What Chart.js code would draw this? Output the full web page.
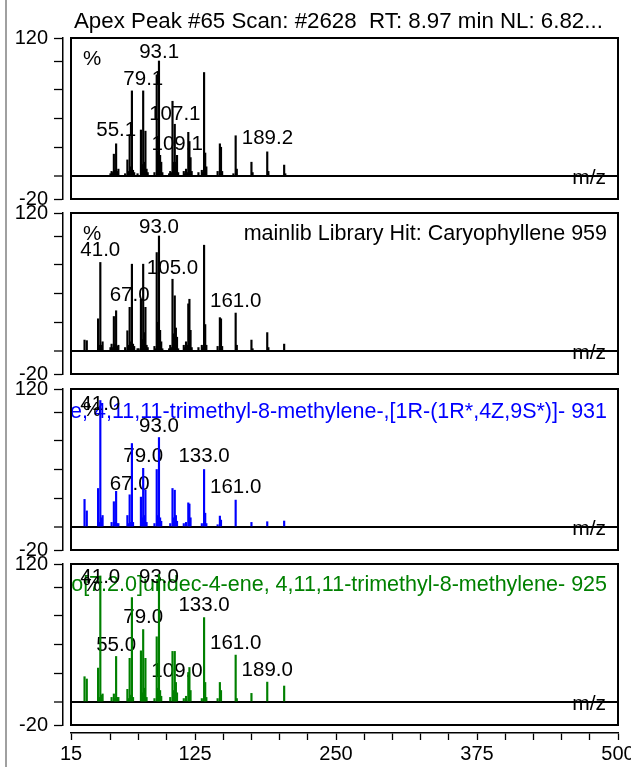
<!DOCTYPE html>
<html>
<head>
<meta charset="utf-8">
<script src="https://cdn.jsdelivr.net/npm/chart.js@4.4.1/dist/chart.umd.min.js"></script>
<style>
html,body{margin:0;padding:0;background:#fff;overflow:hidden;width:631px;height:767px;}
.wrap{position:relative;width:631px;height:767px;overflow:hidden;background:#fff;}
canvas.panel{position:absolute;left:0;top:0;}
.edge{position:absolute;left:5px;top:0;width:2px;height:767px;background:#a0a0a0;}
</style>
</head>
<body>
<div class="wrap">
<div class="edge"></div>
<canvas id="c0" class="panel" width="660" height="767"></canvas>
<canvas id="c1" class="panel" width="660" height="767"></canvas>
<canvas id="c2" class="panel" width="660" height="767"></canvas>
<canvas id="c3" class="panel" width="660" height="767"></canvas>
</div>
<script>
// ---------------- DATA ----------------
const titleText = "Apex Peak #65 Scan: #2628  RT: 8.97 min NL: 6.82...";
const hitNames = [
  "",
  "mainlib Library Hit: Caryophyllene 959",
  "Bicyclo[7.2.0]undec-4-ene, 4,11,11-trimethyl-8-methylene-,[1R-(1R*,4Z,9S*)]- 931",
  "Bicyclo[7.2.0]undec-4-ene, 4,11,11-trimethyl-8-methylene- 925"
];

// Panel 1: measured spectrum (m/z, relative intensity)
const p1Mz = [50,51,52,53,54,55,56,57, 63,65,66,67,68,69,70,71, 74,77,78,79,80,81,82,83, 89,91,92,93,94,95,96, 102,103,104,105,106,107,108,109,110, 115,116,117,118,119,120,121,122, 128,131,132,133,134,135, 145,147,148,149, 159,161,162, 175,176, 189,190, 204,205];
const p1I  = [2,4,3,19,5,28,4,6, 2,14,4,36,8,74,5,3, 2,40,10,74,12,39,6,3, 3,88,22,100,18,12,3, 2,4,3,65,12,45,12,18,3, 4,2,6,3,38,30,16,4, 3,5,3,90,20,8, 4,28,25,4, 2,35,6, 12,3, 21,4, 9.5,2];

// Panel 2: mainlib Caryophyllene
const p2Mz = [27,29,39,40,41,42,43, 50,51,52,53,54,55,56,57, 63,65,66,67,68,69,70,71, 74,75,77,78,79,80,81,82,83, 89,90,91,92,93,94,95,96, 102,103,104,105,106,107,108,109,110, 115,116,117,118,119,120,121,122, 128,131,132,133,134,135, 145,147,148,149, 161,162, 175,176, 189,190, 204];
const p2I  = [9.5,9,28,5,77,5,8, 3,6,3,30,6,35,4,5, 3,17.6,5,38,8,75.5,6,4, 2,2,45,10,75.5,16,38,5,3, 4,2,85.6,25,100,18,8,2, 2,5,3,62.4,15,48,20,12,2, 5,3,8,5,41,45,18,3, 3,5,3,92,23,5, 4,29,28,4, 33,5, 9.5,2, 16,3, 6];

// Panel 3: library hit 931 (blue)
const p3Mz = [27,29,39,40,41,42,43, 51,53,54,55,56,57, 65,66,67,68,69,70, 77,78,79,80,81,82, 89,91,92,93,94,95, 103,105,106,107,108,109, 115,117,119,120,121, 131,133,134,135, 145,147,148, 161, 175, 189, 204];
const p3I  = [24,14,33.5,4,110,8,10, 4,22,4,31,3,3, 10,3,28,4,72.6,4, 26,8,51,10,32,4, 3,50,10,77.8,8,5, 3,33.5,8,32,10,5, 3,4,21,20,8, 3,50,12,3, 2,9.5,6, 23.4, 4, 4.6, 5.2];

// Panel 4: library hit 925 (green)
const p4Mz = [27,29,39,40,41,42,43, 51,53,54,55,56,57, 65,66,67,68,69,70, 77,78,79,80,81,82, 89,91,92,93,94,95, 103,105,106,107,108,109, 115,117,119,120,121, 131,133,134,135, 145,147,148, 161,162, 175, 189, 204];
const p4I  = [22,20,29.5,4,109.6,6,7, 4,7,3,39.6,4,4, 11,3,38,6,90.8,4, 44.5,8,63,12,38,4, 3,56.7,12,111,10,5, 4,44,10,44,17,8, 3,5,25.7,30,10, 3,73.4,17,4, 3,17,10, 40.8,3, 7.5, 17.3, 13.9];

// Peak annotations: text, m/z, and the intensity level the label sits on
const p1LabText = ["55.1","79.1","93.1","107.1","109.1","189.2"];
const p1LabMz   = [55.1,79.1,93.1,107.1,109.1,189.2];
const p1LabAt   = [34.7,79.5,103,49,23,27.5];
const p2LabText = ["41.0","67.0","93.0","105.0","161.0"];
const p2LabMz   = [41,67,93,105,161];
const p2LabAt   = [82.6,43.6,103,66.8,38];
const p3LabText = ["41.0","67.0","79.0","93.0","133.0","161.0"];
const p3LabMz   = [41,67,79,93,133,161];
const p3LabAt   = [101.5,32,56.6,82.6,56.6,29.2];
const p4LabText = ["41.0","55.0","79.0","93.0","109.0","133.0","161.0","189.0"];
const p4LabMz   = [41,55,79,93,109,133,161,189];
const p4LabAt   = [103.8,44.5,69,103.8,21.4,79.2,46,22.8];

// Axis ticks
const yTickValues = [-20,0,25,50,75,100,120];
const yTickLabels = [-20,120];
const xTickValues = [15,50,75,100,125,150,175,200,225,250,275,300,325,350,375,400,425,450,475,500];
const xTickLabels = [15,125,250,375,500];
const xMin = 15, xMax = 500, yMin = -20, yMax = 120;

// ---------------- DRAWING ----------------
const FONT_FAMILY = "'Liberation Sans', Arial, sans-serif";
const LABEL_FONT = "20.5px " + FONT_FAMILY;
const NAME_FONT = "21.5px " + FONT_FAMILY;
const TITLE_FONT = "22.3px " + FONT_FAMILY;
const MZ_FONT = "21px " + FONT_FAMILY;
Chart.defaults.font.family = FONT_FAMILY;
Chart.defaults.font.size = 20;
Chart.defaults.color = '#000';

const CANVAS_H = 767;
const PANEL_TOPS = [38, 213, 389, 564];
const PANEL_H = 161;

const decor = {
  id: 'decor',
  beforeDatasetsDraw(chart, args, o) {
    const {ctx, chartArea: a, scales: {x, y}} = chart;
    ctx.save();
    if (o.name) {
      ctx.save();
      ctx.beginPath();
      ctx.rect(a.left, a.top, a.right - a.left, a.bottom - a.top);
      ctx.clip();
      ctx.font = NAME_FONT;
      ctx.fillStyle = o.nameColor;
      ctx.textAlign = 'right';
      ctx.textBaseline = 'alphabetic';
      ctx.fillText(o.name, a.right - 11, a.top + o.nameDy);
      ctx.restore();
    }
    ctx.font = LABEL_FONT;
    ctx.fillStyle = '#000';
    ctx.textAlign = 'left';
    ctx.textBaseline = 'alphabetic';
    ctx.fillText('%', a.left + 12, a.top + 27);
    ctx.textAlign = 'center';
    for (let i = 0; i < o.labText.length; i++) {
      ctx.fillText(o.labText[i], x.getPixelForValue(o.labMz[i]), y.getPixelForValue(o.labAt[i]));
    }
    ctx.restore();
  },
  afterDatasetsDraw(chart, args, o) {
    const {ctx, chartArea: a, scales: {y}} = chart;
    ctx.save();
    ctx.font = MZ_FONT;
    ctx.fillStyle = '#000';
    ctx.textAlign = 'right';
    ctx.textBaseline = 'alphabetic';
    ctx.fillText('m/z', a.right - 12, y.getPixelForValue(0) + 8);
    ctx.strokeStyle = '#000';
    ctx.lineWidth = 2;
    ctx.strokeRect(a.left, a.top, a.right - a.left, a.bottom - a.top);
    if (o.title) {
      ctx.font = TITLE_FONT;
      ctx.textAlign = 'left';
      ctx.fillText(o.title, a.left + 3, a.top - 10);
    }
    ctx.restore();
  }
};

function makePanel(k, mz, inten, color, labText, labMz, labAt, name, nameColor, nameDy, withXAxis, title) {
  const top = PANEL_TOPS[k];
  const bottom = top + PANEL_H;
  const xScale = {
    type: 'linear', min: xMin, max: xMax, offset: false, position: 'bottom', weight: 1,
    display: withXAxis,
    grid: {offset: false, drawOnChartArea: false, tickLength: 7, tickColor: '#000', tickWidth: 1.3},
    border: {display: true, color: '#000', width: 1.5},
    ticks: {autoSkip: false, maxRotation: 0, padding: 2, color: '#000',
      callback: v => xTickLabels.includes(v) ? String(v) : ''},
    afterBuildTicks: s => { s.ticks = xTickValues.map(v => ({value: v})); }
  };
  if (withXAxis) {
    xScale.afterFit = s => { s.height = 34; s.paddingLeft = 0; s.paddingRight = 0; };
  }
  const scales = {
    x: xScale,
    y: {
      type: 'linear', min: yMin, max: yMax, position: 'left', weight: 1,
      grid: {
        drawOnChartArea: true, tickLength: 9, tickColor: '#000', tickWidth: 1.3,
        color: c => (c.tick && c.tick.value === 0) ? '#000' : 'rgba(0,0,0,0)',
        lineWidth: c => (c.tick && c.tick.value === 0) ? 2 : 1
      },
      border: {display: true, color: '#000', width: 1.5},
      ticks: {autoSkip: false, padding: 6, color: '#000',
        callback: v => yTickLabels.includes(v) ? String(v) : ''},
      afterBuildTicks: s => { s.ticks = yTickValues.map(v => ({value: v})); },
      afterFit: s => { s.width = 63; }
    },
    ygap: {
      type: 'linear', axis: 'y', position: 'left', weight: 0, display: true,
      grid: {display: false}, border: {display: false}, ticks: {display: false},
      afterFit: s => { s.width = 8; }
    }
  };
  if (withXAxis) {
    scales.xgap = {
      type: 'linear', axis: 'x', position: 'bottom', weight: 0, display: true,
      grid: {display: false}, border: {display: false}, ticks: {display: false},
      afterFit: s => { s.height = 8; }
    };
  }
  return new Chart(document.getElementById('c' + k), {
    type: 'bar',
    data: {
      datasets: [{
        data: mz.map((m, i) => ({x: m, y: inten[i]})),
        backgroundColor: color,
        borderWidth: 0,
        barThickness: 1.5,
        grouped: false
      }]
    },
    options: {
      responsive: false,
      animation: false,
      devicePixelRatio: 1,
      layout: {padding: {top: top, left: 0, right: 660 - 618, bottom: withXAxis ? 0 : CANVAS_H - bottom}},
      plugins: {
        legend: {display: false},
        tooltip: {enabled: false},
        decor: {labText, labMz, labAt, name, nameColor, nameDy, title}
      },
      scales
    },
    plugins: [decor]
  });
}

makePanel(0, p1Mz, p1I, '#000000', p1LabText, p1LabMz, p1LabAt, hitNames[0], '#000', 27, false, titleText);
makePanel(1, p2Mz, p2I, '#000000', p2LabText, p2LabMz, p2LabAt, hitNames[1], '#000', 27, false, null);
makePanel(2, p3Mz, p3I, '#0000ff', p3LabText, p3LabMz, p3LabAt, hitNames[2], '#0000ff', 29, false, null);
makePanel(3, p4Mz, p4I, '#008000', p4LabText, p4LabMz, p4LabAt, hitNames[3], '#008000', 27, true, null);
</script>
</body>
</html>
